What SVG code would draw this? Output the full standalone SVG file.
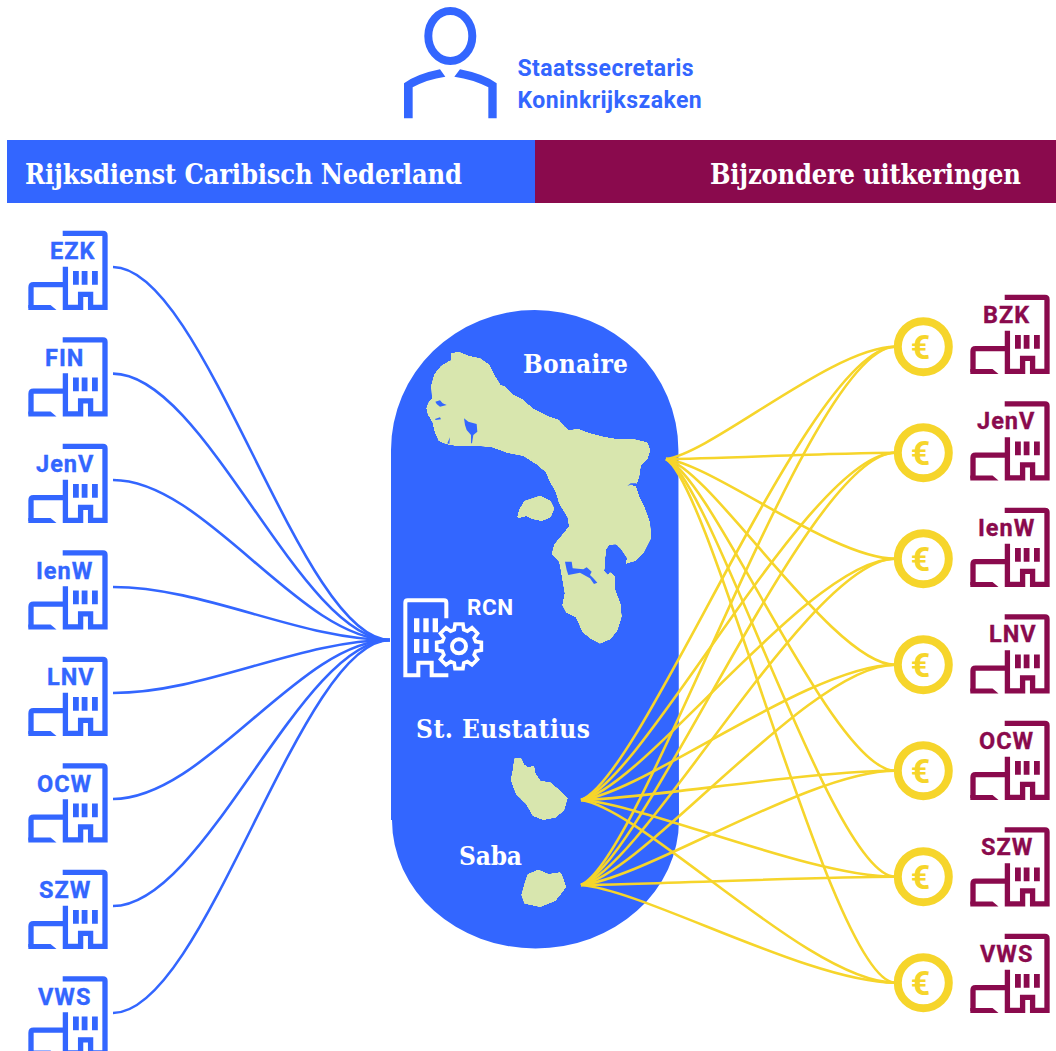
<svg xmlns="http://www.w3.org/2000/svg" xmlns:xlink="http://www.w3.org/1999/xlink" width="1056" height="1051" viewBox="0 0 1056 1051">
<style>
.bl{color:#3366ff}.ma{color:#8a0a4d}
.sans{font-family:"Roboto","Liberation Sans",sans-serif;font-weight:700}
.ser{font-family:"DejaVu Serif Condensed","DejaVu Serif","Liberation Serif",serif;font-weight:700;fill:#fff}
.lb{font-size:23.5px;letter-spacing:1px;fill:currentColor;stroke:currentColor;stroke-width:.35px}
.st{font-size:23px;letter-spacing:.45px;fill:#3366ff}
.big{font-size:27px}
.isl{font-size:26px}
.c{fill:none;stroke-width:2.6}
.land{fill:#d8e6ae;stroke:#d8e6ae;stroke-width:6;stroke-linejoin:round}
.lake{fill:#3366ff}
.coin{fill:#fff;stroke:#f6d52b;stroke-width:8}
.eur{font-size:34px;fill:#f6d52b;text-anchor:middle}
</style>
<defs>
<filter id="sm" x="-5%" y="-5%" width="110%" height="110%" color-interpolation-filters="sRGB">
<feGaussianBlur stdDeviation="1.3"/>
<feComponentTransfer><feFuncA type="linear" slope="6" intercept="-2.5"/></feComponentTransfer>
</filter>
<g id="bld">
<path d="M62.7 233.4H103Q105 233.4 105 235.4V307.3H90.6V294.4H80.6V307.3H65.4V266.7M65.4 284.7H33.5Q31 284.7 31 287.2V308" fill="none" stroke="currentColor" stroke-width="5.3"/>
<path d="M28.3 305H50.5L56.5 310H28.3Z" fill="currentColor"/>
<path d="M73 271h5.8v13.7H73ZM81.7 271h5.8v13.7h-5.8ZM92 271h5.8v13.7H92Z" fill="currentColor"/>
</g>
<g id="coin"><circle class="coin" cx="923.3" cy="346.7" r="25.5"/><text class="sans eur" x="920.5" y="358.8">€</text></g>
</defs>
<rect width="1056" height="1051" fill="#fff"/>
<g id="person" class="bl">
<ellipse cx="450.3" cy="36" rx="22" ry="25" fill="none" stroke="#3366ff" stroke-width="8"/>
<path transform="translate(390 0) scale(.33333)" fill="#3366ff" d="M42 355V250Q80 222 150 208L166 230Q110 238 68 262V355ZM320 355V250Q282 222 210 208L193 230Q250 238 295 262V355Z"/>
<text class="sans st" x="517.5" y="76">Staatssecretaris</text>
<text class="sans st" x="517.5" y="108">Koninkrijkszaken</text>
</g>
<g id="header-rcn"><rect x="7" y="140" width="528" height="63" fill="#3366ff"/><text class="ser big" x="25" y="184" textLength="437">Rijksdienst Caribisch Nederland</text></g>
<g id="header-bu"><rect x="535" y="140" width="521" height="63" fill="#8a0a4d"/><text class="ser big" x="710" y="184" textLength="311">Bijzondere uitkeringen</text></g>
<g id="islands">
<path fill="#3366ff" d="M391 450A143.7 140 0 0 1 678.4 450L679 820A143.5 128.5 0 0 1 392 820H391Z"/>
<g transform="translate(390 300) scale(.33333)">
<g filter="url(#sm)">
<path class="land" d="M185 163L205 158L235 170L270 178L295 195L310 225L330 257L345 262L365 285L395 300L430 330L470 350L505 362L520 380L535 393L565 390L600 403L640 413L680 420L730 420L770 430L778 450L770 475L750 495L745 530L738 550L712 558L735 560L745 590L760 620L778 670L780 715L760 755L735 780L710 788L715 775L695 745L680 730L655 732L645 750L640 815L655 830L660 820L672 832L673 870L690 915L692 950L680 990L660 1015L630 1028L605 1015L580 995L560 950L530 935L520 915L527 880L515 810L510 785L488 762L495 735L520 705L540 680L535 650L510 610L500 575L480 540L470 515L440 490L400 465L350 455L300 437L240 435L200 435L170 430L148 420L137 395L130 365L116 342L112 325L117 310L128 298L127 255L135 225L155 200L180 185L197 198L185 183Z"/>
<path class="land" d="M385 650L390 630L405 605L450 590L480 605L490 625L480 650L455 660L430 655L410 645L390 650Z"/>
</g>
<path class="lake" d="M525 785L545 785L548 805L580 808L590 802L605 815L600 825L610 835L622 848L612 852L600 835L570 818L535 825L530 810ZM222 355L235 365L260 372L262 395L250 405L246 430L243 430L243 405L230 390L225 375ZM136 305L150 301L158 310L170 315L150 320L140 312ZM135 357L150 352L153 358L137 360ZM172 430L180 412L178 432ZM712 558L722 550L740 550L738 556L722 554Z"/>
</g>
<g transform="translate(390 590) scale(.33333)" filter="url(#sm)">
<path class="land" d="M375 508L392 507L400 525L415 535L430 530L433 550L450 575L480 580L510 605L530 625L520 660L495 680L460 687L430 675L410 640L380 610L365 570L372 535Z"/>
<path class="land" d="M415 855L445 842L475 855L510 850L517 865L525 890L515 905L495 930L450 948L405 938L397 915L405 885Z"/>
</g>
<text class="ser isl" x="523" y="373" textLength="105">Bonaire</text>
<text class="ser isl" x="416" y="738" textLength="174">St. Eustatius</text>
<text class="ser isl" x="459" y="865" textLength="63">Saba</text>
</g>
<g id="rcn">
<g transform="translate(390 590) scale(.33333)">
<path fill="none" stroke="#fff" stroke-width="12" d="M169 85V38Q169 31 162 31H53Q46 31 46 38V256H85V218H125V256H175"/>
<path fill="#fff" d="M72 85h16v42H72ZM100 85h16v42h-16ZM128 85h16v42h-16ZM72 147h16v42H72ZM100 147h16v42h-16Z"/>
<path transform="translate(207 169)" fill="#3366ff" stroke="#fff" stroke-width="11" stroke-linejoin="miter" d="M50 -14.3L67 -11.8V11.8L50 14.3L45.5 25.2L55.7 39L39 55.7L25.2 45.5L14.3 50L11.8 67H-11.8L-14.3 50L-25.2 45.5L-39 55.7L-55.7 39L-45.5 25.2L-50 14.3L-67 11.8V-11.8L-50 -14.3L-45.5 -25.2L-55.7 -39L-39 -55.7L-25.2 -45.5L-14.3 -50L-11.8 -67H11.8L14.3 -50L25.2 -45.5L39 -55.7L55.7 -39L45.5 -25.2Z"/>
<circle cx="207" cy="169" r="21" fill="none" stroke="#fff" stroke-width="12"/>
</g>
<text class="sans" x="467" y="615" font-size="22.5" letter-spacing=".6" fill="#fff">RCN</text>
</g>
<g id="connectors">
<g class="c" stroke="#3366ff">
<path d="M113 267C205 267 300 640 390 640"/>
<path d="M113 373.6C205 373.6 300 640 390 640"/>
<path d="M113 480C205 480 300 640 390 640"/>
<path d="M113 587C205 587 300 640 390 640"/>
<path d="M113 693C205 693 300 640 390 640"/>
<path d="M113 799C205 799 300 640 390 640"/>
<path d="M113 906C205 906 300 640 390 640"/>
<path d="M113 1013C205 1013 300 640 390 640"/>
</g>
<g class="c" stroke="#f6d52b">
<path d="M666 459C712 453 833 346.7 895 346.7"/>
<path d="M666 459C712 459 833 452.7 895 452.7"/>
<path d="M666 459C712 464 833 558.7 895 558.7"/>
<path d="M666 459C712 469 833 664.7 895 664.7"/>
<path d="M666 459C712 475 833 770.7 895 770.7"/>
<path d="M666 459C712 480 833 876.7 895 876.7"/>
<path d="M666 459C712 485 833 982.7 895 982.7"/>
<path d="M581 800C644 777 810 346.7 895 346.7"/>
<path d="M581 800C644 783 810 452.7 895 452.7"/>
<path d="M581 800C644 788 810 558.7 895 558.7"/>
<path d="M581 800C644 793 810 664.7 895 664.7"/>
<path d="M581 800C644 799 810 770.7 895 770.7"/>
<path d="M581 800C644 804 810 876.7 895 876.7"/>
<path d="M581 800C644 809 810 982.7 895 982.7"/>
<path d="M581 885C644 858 810 346.7 895 346.7"/>
<path d="M581 885C644 863 810 452.7 895 452.7"/>
<path d="M581 885C644 869 810 558.7 895 558.7"/>
<path d="M581 885C644 874 810 664.7 895 664.7"/>
<path d="M581 885C644 879 810 770.7 895 770.7"/>
<path d="M581 885C644 885 810 876.7 895 876.7"/>
<path d="M581 885C644 890 810 982.7 895 982.7"/>
</g>
</g>
<g id="ministry-left" class="bl">
<g id="l-ezk"><use href="#bld"/><text class="sans lb" x="50" y="259">EZK</text></g>
<g id="l-fin"><use href="#bld" y="106.5"/><text class="sans lb" x="45" y="366">FIN</text></g>
<g id="l-jenv"><use href="#bld" y="213"/><text class="sans lb" x="36" y="472">JenV</text></g>
<g id="l-ienw"><use href="#bld" y="319.5"/><text class="sans lb" x="36" y="579">IenW</text></g>
<g id="l-lnv"><use href="#bld" y="426"/><text class="sans lb" x="47" y="685">LNV</text></g>
<g id="l-ocw"><use href="#bld" y="532.5"/><text class="sans lb" x="37" y="792">OCW</text></g>
<g id="l-szw"><use href="#bld" y="639"/><text class="sans lb" x="39" y="898">SZW</text></g>
<g id="l-vws"><use href="#bld" y="745.5"/><text class="sans lb" x="38" y="1005">VWS</text></g>
</g>
<g id="ministry-right" class="ma">
<g id="r-bzk"><use href="#bld" x="942" y="64"/><text class="sans lb" x="983" y="323">BZK</text></g>
<g id="r-jenv"><use href="#bld" x="942" y="170.5"/><text class="sans lb" x="977" y="429">JenV</text></g>
<g id="r-ienw"><use href="#bld" x="942" y="277"/><text class="sans lb" x="978" y="536">IenW</text></g>
<g id="r-lnv"><use href="#bld" x="942" y="383.5"/><text class="sans lb" x="989" y="642">LNV</text></g>
<g id="r-ocw"><use href="#bld" x="942" y="490"/><text class="sans lb" x="979" y="749">OCW</text></g>
<g id="r-szw"><use href="#bld" x="942" y="596.5"/><text class="sans lb" x="981" y="855">SZW</text></g>
<g id="r-vws"><use href="#bld" x="942" y="703"/><text class="sans lb" x="980" y="962">VWS</text></g>
</g>
<g id="coins">
<g id="coin-1"><use href="#coin"/></g>
<g id="coin-2"><use href="#coin" y="106"/></g>
<g id="coin-3"><use href="#coin" y="212"/></g>
<g id="coin-4"><use href="#coin" y="318"/></g>
<g id="coin-5"><use href="#coin" y="424"/></g>
<g id="coin-6"><use href="#coin" y="530"/></g>
<g id="coin-7"><use href="#coin" y="636"/></g>
</g>
</svg>
